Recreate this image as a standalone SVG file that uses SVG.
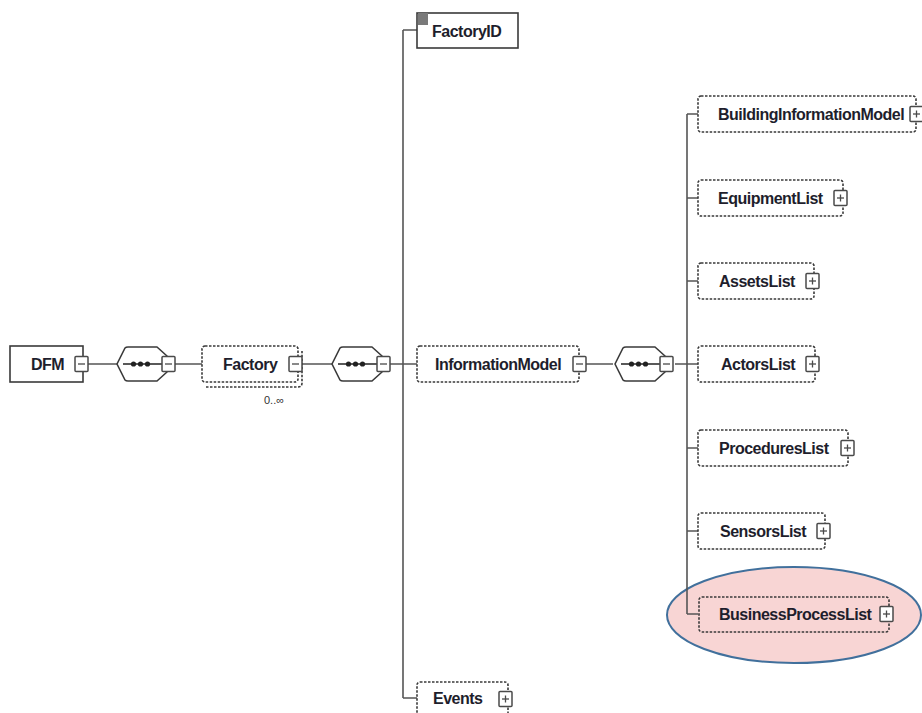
<svg xmlns="http://www.w3.org/2000/svg" width="922" height="713" viewBox="0 0 922 713">
<style>
.box{fill:none;stroke:#3a3a3a;stroke-width:1.6}
.opt{fill:none;stroke:#3a3a3a;stroke-width:1.6;stroke-dasharray:2.5 1.5}
.lbl{font-family:"Liberation Sans",Arial,sans-serif;font-size:16px;font-weight:bold;letter-spacing:-0.5px;fill:#1e1e2c}
.btn{fill:#fff;stroke:#4a4a4a;stroke-width:1.5}
.sign{stroke:#4a4a4a;stroke-width:1.3}
.con{fill:none;stroke:#555;stroke-width:1.6}
.comp{fill:#fff;stroke:#3a3a3a;stroke-width:1.6;stroke-linejoin:round}
</style>
<defs>
<g id="minus"><rect class="btn" x="0" y="0" width="13" height="15" rx="1"/><line class="sign" x1="3" y1="7.5" x2="10" y2="7.5"/></g>
<g id="plus"><rect class="btn" x="0" y="0" width="13" height="15" rx="1"/><line class="sign" x1="3" y1="7.5" x2="10" y2="7.5"/><line class="sign" x1="6.5" y1="4" x2="6.5" y2="11"/></g>
<g id="seq">
<path class="comp" d="M117,364 L125,348 Q126,347 128,347 H157 L167,356 V372 L157,381 H128 Q126,381 125,380 Z"/>
<line x1="123" y1="364" x2="162" y2="364" stroke="#222" stroke-width="1.5"/>
<circle cx="133.5" cy="364" r="2.6" fill="#222"/><circle cx="140.5" cy="364" r="2.6" fill="#222"/><circle cx="147.5" cy="364" r="2.6" fill="#222"/>
<use href="#minus" x="162" y="356.5"/>
</g>
</defs>
<ellipse cx="794" cy="615" rx="127" ry="48" fill="#f8d5d4" stroke="#41709c" stroke-width="2"/>
<g id="connectors">
<path class="con" d="M88,364 H117 M175,364 H202 M302,364 H332 M388,364 H417 M403,30 V698 M403,30 H417 M403,698 H417 M586,364 H613 M675,364 H698 M687,114 V614 M687,114 H698 M687,198 H698 M687,281 H698 M687,448 H698 M687,531 H698 M687,614 H698"/>
</g>
<g id="DFM"><rect class="box" x="10" y="346" width="73" height="36"/><text class="lbl" x="31" y="370">DFM</text><use href="#minus" x="75" y="356.5"/></g>
<g id="seq1"><use href="#seq"/></g>
<g id="Factory"><path class="opt" d="M206,387 H298 Q302,387 302,383 V351"/><rect class="opt" x="202" y="346" width="96" height="36" rx="3" fill="#fff"/><text class="lbl" x="223" y="370">Factory</text><use href="#minus" x="289" y="356.5"/><text x="264" y="404" font-family="Liberation Sans,Arial,sans-serif" font-size="11" fill="#333">0..∞</text></g>
<g id="seq2"><use href="#seq" x="215"/></g>
<g id="FactoryID"><rect class="box" x="417" y="13" width="101" height="35"/><rect x="418" y="13" width="10" height="12" fill="#7a7a7a"/><text class="lbl" x="432" y="37">FactoryID</text></g>
<g id="InformationModel"><rect class="opt" x="417" y="346" width="162" height="36" rx="3"/><text class="lbl" x="435" y="370">InformationModel</text><use href="#minus" x="573" y="356.5"/></g>
<g id="Events"><rect class="opt" x="417" y="682" width="91" height="40" rx="3"/><text class="lbl" x="433" y="704">Events</text><use href="#plus" x="499" y="691.5"/></g>
<g id="seq3"><use href="#seq" x="498"/></g>
<g id="BuildingInformationModel"><rect class="opt" x="698" y="96" width="218" height="36" rx="3"/><text class="lbl" x="718" y="120">BuildingInformationModel</text><use href="#plus" x="910" y="106.5"/></g>
<g id="EquipmentList"><rect class="opt" x="698" y="180" width="145" height="36" rx="3"/><text class="lbl" x="718" y="204">EquipmentList</text><use href="#plus" x="834" y="190.5"/></g>
<g id="AssetsList"><rect class="opt" x="698" y="263" width="116" height="36" rx="3"/><text class="lbl" x="719" y="287">AssetsList</text><use href="#plus" x="806" y="273.5"/></g>
<g id="ActorsList"><rect class="opt" x="698" y="346" width="117" height="36" rx="3"/><text class="lbl" x="721" y="370">ActorsList</text><use href="#plus" x="806" y="356.5"/></g>
<g id="ProceduresList"><rect class="opt" x="698" y="430" width="150" height="36" rx="3"/><text class="lbl" x="719" y="454">ProceduresList</text><use href="#plus" x="841" y="440.5"/></g>
<g id="SensorsList"><rect class="opt" x="698" y="513" width="127" height="36" rx="3"/><text class="lbl" x="720" y="537">SensorsList</text><use href="#plus" x="817" y="523.5"/></g>
<g id="BusinessProcessList"><rect class="opt" x="699" y="597" width="190" height="35" rx="3"/><text class="lbl" x="719" y="620">BusinessProcessList</text><use href="#plus" x="880" y="606.5"/></g>
</svg>
